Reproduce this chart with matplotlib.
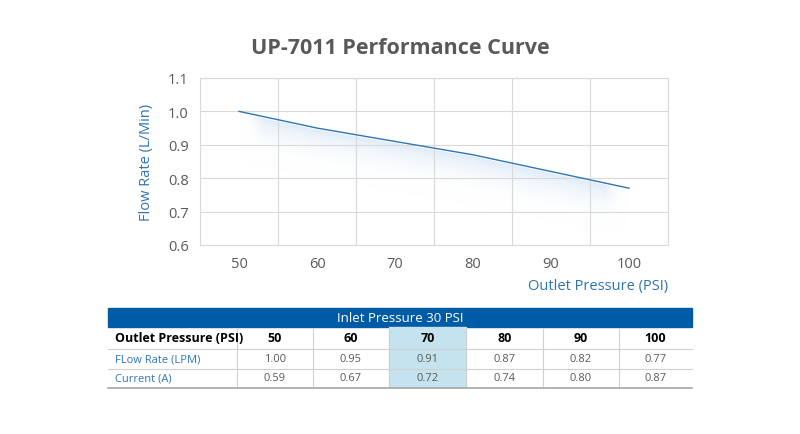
import numpy as np
import matplotlib.pyplot as plt
from matplotlib.patches import Rectangle, Polygon
from matplotlib.colors import LinearSegmentedColormap

pressure = [50, 60, 70, 80, 90, 100]
flow = [1.00, 0.95, 0.91, 0.87, 0.82, 0.77]
current = [0.59, 0.67, 0.72, 0.74, 0.80, 0.87]
flow_txt = ["1.00", "0.95", "0.91", "0.87", "0.82", "0.77"]
current_txt = ["0.59", "0.67", "0.72", "0.74", "0.80", "0.87"]

plt.rcParams['font.family'] = ['Open Sans', 'DejaVu Sans']
blue = '#2e75b6'
grey = '#595959'

fig = plt.figure(figsize=(8, 4.35), dpi=100)
ax = fig.add_axes([0.25, 0.4345, 0.585, 0.384])
ax.set_xlim(45, 105)
ax.set_ylim(0.6, 1.1)
ax.set_xticks(pressure)
ax.set_xticks([55, 65, 75, 85, 95], minor=True)
ax.set_yticks(np.arange(0.6, 1.11, 0.1))
ax.set_yticklabels([f"{v:.1f}" for v in np.arange(0.6, 1.11, 0.1)])
ax.grid(True, which='minor', axis='x', color='#d9d9d9', lw=0.8)
ax.grid(True, which='major', axis='y', color='#d9d9d9', lw=0.8)
ax.tick_params(which='both', length=0, labelsize=10.5, labelcolor=grey, pad=8)
for s in ax.spines.values():
    s.set_color('#d9d9d9')

# soft shadow below the line
cmap = LinearSegmentedColormap.from_list('sh', [(1, 1, 1, 0), (0.82, 0.89, 0.96, 0.75)])
xs = np.array(pressure, float)
ys = np.array(flow)
poly_pts = list(zip(xs, ys - 0.005)) + list(zip(xs[::-1], ys[::-1] - 0.16))
poly = Polygon(poly_pts, closed=True, facecolor='none', edgecolor='none')
ax.add_patch(poly)
ny, nx = 200, 200
gx = np.linspace(50, 100, nx)
gy = np.linspace(0.6, 1.1, ny)
ly = np.interp(gx, xs, ys)
d = ly[None, :] - gy[:, None]
alpha = np.clip(1 - d / 0.16, 0, 1) ** 1.5 * (d > 0)
edge = np.clip(np.minimum(gx - 50, 100 - gx) / 3, 0, 1)
alpha = alpha * edge[None, :]
img = ax.imshow(alpha, extent=[50, 100, 0.6, 1.1], aspect='auto',
                cmap=cmap, origin='lower', zorder=1, vmin=0, vmax=1)
img.set_clip_path(poly)
ax.plot(pressure, flow, color=blue, lw=1, zorder=3)

ax.set_ylabel('Flow Rate (L/Min)', color=blue, fontsize=10.5, labelpad=10)
ax.set_xlabel('Outlet Pressure (PSI)', color=blue, fontsize=10.5)
ax.xaxis.set_label_coords(1.0, -0.2)
ax.xaxis.label.set_ha('right')
fig.text(0.5, 0.875, 'UP-7011 Performance Curve', ha='center', fontsize=15.5,
         fontweight='bold', color=grey)

# table in pixel coordinates
tx = fig.add_axes([0, 0, 1, 1], zorder=-1)
tx.set_xlim(0, 800)
tx.set_ylim(435, 0)
tx.axis('off')
tx.add_patch(Rectangle((108, 309), 584, 19, color='#005ba6'))
tx.text(400, 318.5, 'Inlet Pressure 30 PSI', color='white', ha='center', va='center', fontsize=9.5)
edges = [108, 237, 313, 389, 466, 543, 619, 692]
tx.add_patch(Rectangle((389, 328), 77, 60, color='#c5e3ee'))
for x in edges[1:-1]:
    tx.plot([x, x], [330, 387], color='#d0d0d0', lw=0.8)
for y in [350, 370]:
    tx.plot([108, 692], [y, y], color='#d0d0d0', lw=0.8)
tx.plot([108, 692], [388.5, 388.5], color='#a6a6a6', lw=1.2)
centers = [(edges[i] + edges[i + 1]) / 2 for i in range(1, 7)]
tx.text(115, 339, 'Outlet Pressure (PSI)', ha='left', va='center', fontsize=9, fontweight='bold')
tx.text(115, 360, 'FLow Rate (LPM)', ha='left', va='center', fontsize=8, color=blue)
tx.text(115, 379, 'Current (A)', ha='left', va='center', fontsize=8, color=blue)
for c, p, f, cu in zip(centers, pressure, flow_txt, current_txt):
    tx.text(c, 339, str(p), ha='center', va='center', fontsize=9, fontweight='bold')
    tx.text(c, 360, f, ha='center', va='center', fontsize=8, color=grey)
    tx.text(c, 379, cu, ha='center', va='center', fontsize=8, color=grey)

fig.savefig('out.png', dpi=100)
